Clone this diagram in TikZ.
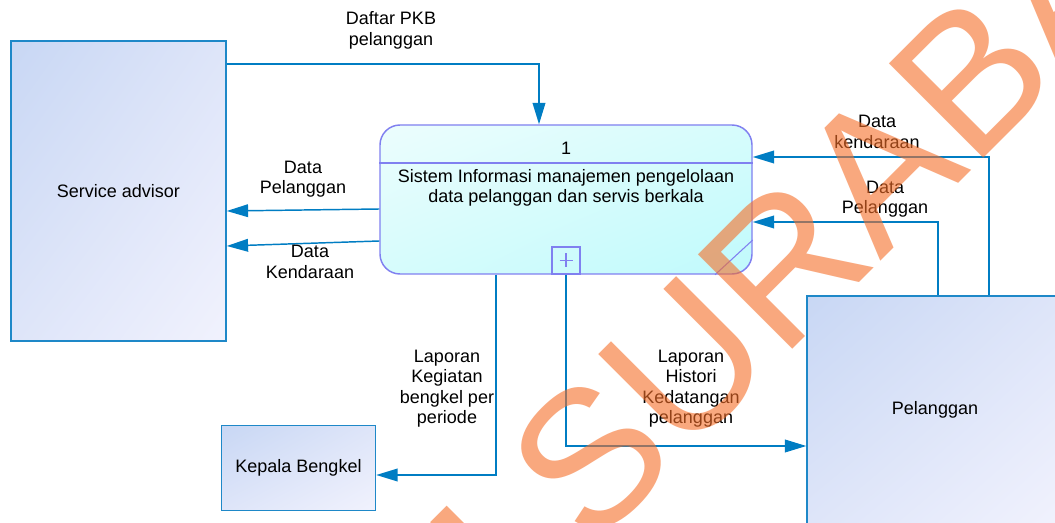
\documentclass[tikz,border=0pt]{standalone}
\usepackage{fontspec}
\setmainfont{Liberation Sans}
\usetikzlibrary{arrows.meta,shadings}
\definecolor{entb}{RGB}{30,136,200}
\definecolor{flowc}{RGB}{0,125,195}
\definecolor{procb}{RGB}{128,128,240}
\definecolor{entA}{RGB}{200,215,244}
\definecolor{entM}{RGB}{222,229,249}
\definecolor{entB}{RGB}{241,242,253}
\definecolor{procA}{RGB}{236,253,253}
\definecolor{procM}{RGB}{214,252,252}
\definecolor{procB}{RGB}{192,250,252}
\definecolor{wmc}{RGB}{245,110,40}
\begin{document}
\begin{tikzpicture}[x=0.75pt,y=-0.75pt,
  font=\fontsize{13.5pt}{15.4pt}\selectfont,
  entity/.style={draw=entb, line width=1.1pt, upper left=entA, upper right=entM,
    lower left=entM, lower right=entB, inner sep=0pt, align=center},
  procbox/.style={draw=procb, line width=1.1pt, rounded corners=15pt,
    upper left=procA, upper right=procM, lower left=procM, lower right=procB,
    inner sep=0pt, minimum width=279pt, minimum height=111.75pt},
  flow/.style={draw=flowc, line width=1.1pt, -{Triangle[length=16pt,width=9.5pt]}},
  lbl/.style={align=center, inner sep=0pt},
  wm/.style={text=wmc, text opacity=0.6, inner sep=0pt,
    font=\fontsize{145.5pt}{150pt}\selectfont}]
\useasboundingbox (0,0) rectangle (1055,523);
\clip (0,0) rectangle (1055,523);
\fill[white] (0,0) rectangle (1055,523);
% entities
\node[entity, minimum width=161.25pt, minimum height=225pt] (sa) at (118.5,191) {Service advisor};
\node[entity, minimum width=115.5pt, minimum height=63.75pt] (kb) at (298.5,468) {Kepala Bengkel};
\node[entity, minimum width=192pt, minimum height=171pt] (pel) at (935,410) {Pelanggan};
% process
\node[procbox] (p) at (566,199.5) {};
\draw[procb, line width=1.1pt] (p.west |- 0,163) -- (p.east |- 0,163);
\node[lbl] (pnum) at (566,148) {1};
\node[lbl] (ptxt) at (566,188) {Sistem Informasi manajemen pengelolaan\\data pelanggan dan servis berkala};
\node[draw=procb, line width=1.1pt, minimum width=21pt, minimum height=20.25pt, inner sep=0pt, anchor=south] (plus) at (p.south) {};
\draw[procb, line width=0.9pt] (plus.center) ++(-6.5,0) -- ++(13,0);
\draw[procb, line width=0.9pt] (plus.center) ++(0,-7) -- ++(0,14);
\draw[procb, line width=0.8pt] (p.east |- 0,240) -- (p.south -| 715,0);
% flows
\draw[flow] (sa.east |- 0,64) -- (539,64) -- (p.north -| 539,0);
\draw[flow] (p.west |- 0,209) -- (sa.east |- 0,211);
\draw[flow] (p.west |- 0,241) -- (sa.east |- 0,246);
\draw[flow] (p.south -| 496,0) -- (496,475) -- (kb.east |- 0,475);
\draw[flow] (p.south) -- (p.south |- 0,446) -- (pel.west |- 0,446);
\draw[flow] (pel.north -| 989,0) -- (989,157) -- (p.east |- 0,157);
\draw[flow] (pel.north -| 938,0) -- (938,222) -- (p.east |- 0,222);
% labels
\node[lbl] (l1) at (391,30.5) {Daftar PKB\\pelanggan};
\node[lbl] (l2) at (303,179) {Data\\Pelanggan};
\node[lbl] (l3) at (310,262) {Data\\Kendaraan};
\node[lbl] (l4) at (447,388.5) {Laporan\\Kegiatan\\bengkel per\\periode};
\node[lbl] (l5) at (691,388.5) {Laporan\\Histori\\Kedatangan\\pelanggan};
\node[lbl] (l6) at (877,132) {Data\\kendaraan};
\node[lbl] (l7) at (885,199) {Data\\Pelanggan};
% watermark
\coordinate (wmo) at (591,551);
\node[wm, rotate=45, anchor=base west] (wmk) at (wmo) {SURABAYA};
\node[wm, rotate=45, anchor=base east] (wmk0) at (wmo) {STIKOM\rule{0.278em}{0pt}};
\end{tikzpicture}
\end{document}
